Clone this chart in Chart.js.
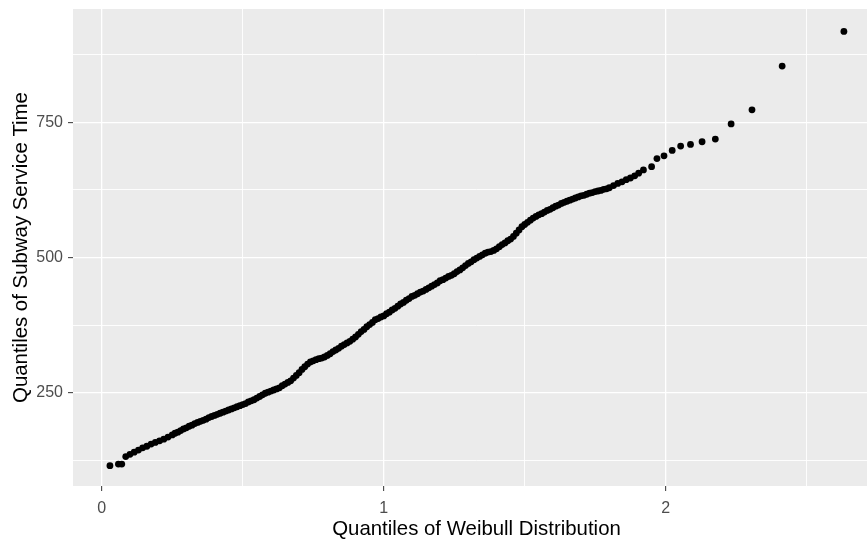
<!DOCTYPE html>
<html>
<head>
<meta charset="utf-8">
<script src="https://cdn.jsdelivr.net/npm/chart.js@4.4.1/dist/chart.umd.min.js"></script>
<style>
  html, body { margin: 0; padding: 0; background: #fff; overflow: hidden; }
  #wrap { width: 867px; height: 541px; overflow: hidden; }
</style>
</head>
<body>
<!-- the plot panel runs a little past the right edge of the page -->
<div id="wrap"><canvas id="qqChart" width="880" height="541"></canvas></div>
<script>
// theoretical Weibull quantiles (x) and matching sample quantiles of service time (y)
const weibullQuantiles = [
  0.029, 0.059, 0.071, 0.085, 0.100, 0.115, 0.130, 0.145, 0.160, 0.175,
  0.190, 0.205, 0.220, 0.235, 0.250,
  0.26, 0.27, 0.28, 0.29, 0.30, 0.31, 0.32, 0.33, 0.34, 0.35,
  0.36, 0.37, 0.38, 0.39, 0.40, 0.41, 0.42, 0.43, 0.44, 0.45,
  0.46, 0.47, 0.48, 0.49, 0.50, 0.51, 0.52, 0.53, 0.54, 0.55,
  0.56, 0.57, 0.58, 0.59, 0.60, 0.61, 0.62, 0.63, 0.64, 0.65,
  0.66, 0.67, 0.68, 0.69, 0.70, 0.71, 0.72, 0.73, 0.74, 0.75,
  0.76, 0.77, 0.78, 0.79, 0.80, 0.81, 0.82, 0.83, 0.84, 0.85,
  0.86, 0.87, 0.88, 0.89, 0.90, 0.91, 0.92, 0.93, 0.94, 0.95,
  0.96, 0.97, 0.98, 0.99, 1.00, 1.01, 1.02, 1.03, 1.04, 1.05,
  1.06, 1.07, 1.08, 1.09, 1.10, 1.11, 1.12, 1.13, 1.14, 1.15,
  1.16, 1.17, 1.18, 1.19, 1.20, 1.21, 1.22, 1.23, 1.24, 1.25,
  1.26, 1.27, 1.28, 1.29, 1.30, 1.31, 1.32, 1.33, 1.34, 1.35,
  1.36, 1.37, 1.38, 1.39, 1.40, 1.41, 1.42, 1.43, 1.44, 1.45,
  1.46, 1.47, 1.48, 1.49, 1.50, 1.51, 1.52, 1.53, 1.54, 1.55,
  1.56, 1.57, 1.58, 1.59, 1.60, 1.61, 1.62, 1.63, 1.64, 1.65,
  1.66, 1.67, 1.68, 1.69, 1.70, 1.71, 1.72, 1.73, 1.74, 1.75,
  1.76, 1.77, 1.78, 1.79, 1.80,
  1.815, 1.830, 1.845, 1.860, 1.875, 1.890, 1.904, 1.921, 1.950, 1.969,
  1.994, 2.023, 2.053, 2.088, 2.129, 2.176, 2.232, 2.306, 2.413, 2.632
];
const serviceQuantiles = [
  115, 118, 118, 132, 136, 140, 144, 148, 151, 155,
  158, 161, 164, 168, 172,
  175, 177, 180, 183, 185, 188, 190, 193, 195, 197,
  199, 201, 204, 206, 208, 210, 212, 214, 216, 218,
  220, 222, 224, 226, 228, 230, 233, 235, 237, 240,
  243, 246, 249, 251, 253, 255, 257, 259, 263, 266,
  269, 272, 277, 282, 287, 293, 298, 303, 307, 309,
  311, 313, 314, 316, 319, 322, 326, 329, 332, 336,
  339, 342, 345, 349, 353, 358, 363, 367, 372, 376,
  380, 385, 387, 390, 392, 396, 399, 403, 406, 410,
  414, 417, 421, 424, 428, 430, 433, 436, 438, 441,
  444, 447, 450, 453, 457, 459, 462, 465, 467, 470,
  474, 477, 481, 485, 489, 492, 496, 499, 502, 505,
  508, 510, 511, 513, 516, 520, 524, 527, 531, 534,
  539, 545, 551, 557, 561, 565, 569, 573, 576, 579,
  581, 584, 587, 589, 592, 595, 597, 600, 602, 604,
  606, 608, 610, 612, 614, 615, 617, 619, 620, 622,
  623, 624, 626, 627, 629,
  633, 637, 640, 644, 647, 651, 656, 662, 668, 683,
  688, 698, 706, 709, 714, 719, 747, 773, 854, 918
];

const xGridValues = [0, 0.5, 1, 1.5, 2, 2.5];
const xLabelValues = [0, 1, 2];
const yGridValues = [125, 250, 375, 500, 625, 750, 875];
const yLabelValues = [250, 500, 750];

const points = weibullQuantiles.map((q, i) => ({ x: q, y: serviceQuantiles[i] }));

function isMajor(list, value) {
  return list.some((v) => Math.abs(v - value) < 1e-9);
}

// grey panel behind the grid
const panelBackground = {
  id: "panelBackground",
  beforeDraw(chart) {
    const { ctx, chartArea } = chart;
    ctx.save();
    ctx.fillStyle = "#EBEBEB";
    ctx.fillRect(chartArea.left, chartArea.top, chartArea.right - chartArea.left, chartArea.bottom - chartArea.top);
    ctx.restore();
  },
};

Chart.defaults.font.family = "'Liberation Sans', Arial, sans-serif";

const ctx = document.getElementById("qqChart").getContext("2d");
const qqChart = new Chart(ctx, {
  type: "scatter",
  data: {
    datasets: [
      {
        data: points,
        pointRadius: 3.4,
        pointBackgroundColor: "#000000",
        pointBorderWidth: 0,
        showLine: false,
      },
    ],
  },
  plugins: [panelBackground],
  options: {
    responsive: false,
    animation: false,
    devicePixelRatio: 1,
    events: [],
    layout: { autoPadding: false, padding: { top: 9, right: 0, bottom: 0, left: 0 } },
    plugins: {
      legend: { display: false },
      tooltip: { enabled: false },
    },
    scales: {
      x: {
        type: "linear",
        min: -0.102,
        max: 2.760,
        afterBuildTicks: (scale) => {
          scale.ticks = xGridValues.map((v) => ({ value: v }));
        },
        afterFit: (scale) => {
          scale.height = 55;
          scale.paddingLeft = 0;
          scale.paddingRight = 0;
        },
        border: { display: false },
        grid: {
          color: "#FFFFFF",
          lineWidth: (c) => (isMajor(xLabelValues, c.tick.value) ? 1.3 : 0.9),
          tickColor: (c) => (isMajor(xLabelValues, c.tick.value) ? "#333333" : "rgba(0,0,0,0)"),
          tickLength: 5,
          tickWidth: 1,
        },
        ticks: {
          autoSkip: false,
          maxRotation: 0,
          padding: 8,
          color: "#4D4D4D",
          font: { size: 16 },
          callback: (value) => (isMajor(xLabelValues, value) ? String(value) : ""),
        },
        title: {
          display: true,
          text: "Quantiles of Weibull Distribution",
          color: "#000000",
          font: { size: 20.4, lineHeight: 1.1 },
          padding: { top: 0, bottom: 0 },
        },
      },
      y: {
        type: "linear",
        min: 77.5,
        max: 959.5,
        afterBuildTicks: (scale) => {
          scale.ticks = yGridValues.map((v) => ({ value: v }));
        },
        afterFit: (scale) => {
          scale.width = 73;
          scale.paddingTop = 0;
          scale.paddingBottom = 0;
        },
        border: { display: false },
        grid: {
          color: "#FFFFFF",
          lineWidth: (c) => (isMajor(yLabelValues, c.tick.value) ? 1.3 : 0.9),
          tickColor: (c) => (isMajor(yLabelValues, c.tick.value) ? "#333333" : "rgba(0,0,0,0)"),
          tickLength: 5,
          tickWidth: 1,
        },
        ticks: {
          autoSkip: false,
          padding: 5,
          color: "#4D4D4D",
          font: { size: 16 },
          callback: (value) => (isMajor(yLabelValues, value) ? String(value) : ""),
        },
        title: {
          display: true,
          text: "Quantiles of Subway Service Time",
          color: "#000000",
          font: { size: 20.4, lineHeight: 1.2 },
          padding: { top: 9, bottom: 0 },
        },
      },
    },
  },
});
</script>
</body>
</html>
